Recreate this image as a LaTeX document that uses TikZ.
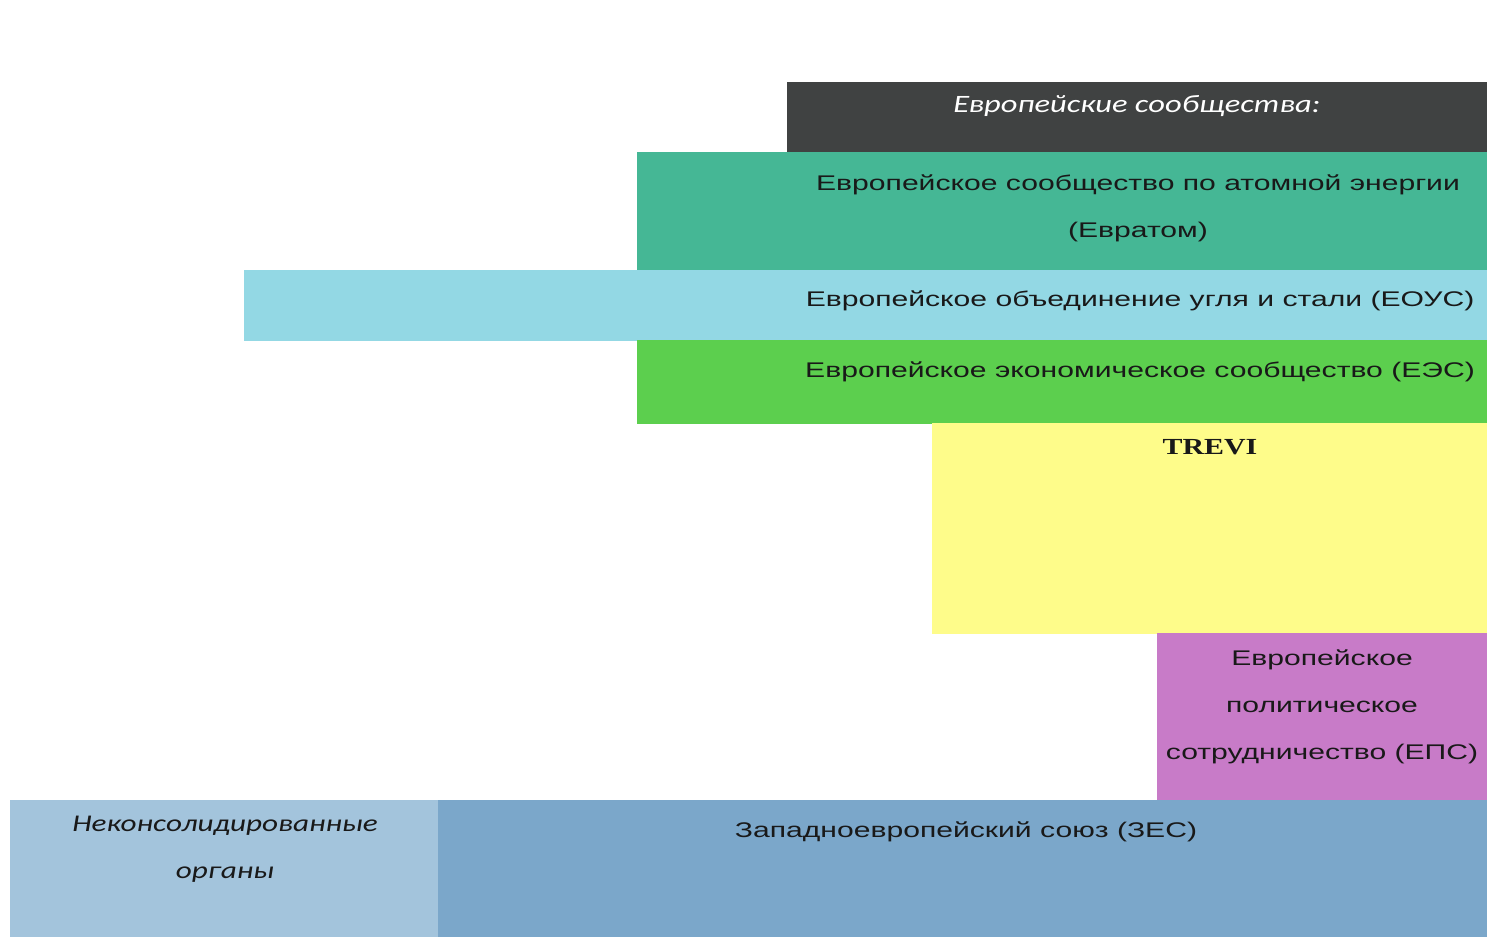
\documentclass[tikz,border=0pt]{standalone}
\usepackage{fontspec}
\setmainfont{Liberation Sans}
\newfontfamily\wsans[FakeStretch=1.42]{Liberation Sans}
\newfontfamily\wital[FakeStretch=1.3]{Carlito}
\newfontfamily\wserif[FakeStretch=1.3]{Liberation Serif}
\definecolor{cdark}{HTML}{404242}
\definecolor{cteal}{HTML}{45B795}
\definecolor{clblue}{HTML}{93D8E4}
\definecolor{cgreen}{HTML}{5CCF4E}
\definecolor{cyellow}{HTML}{FEFC8A}
\definecolor{cpink}{HTML}{C87BC8}
\definecolor{cgray}{HTML}{A3C4DC}
\definecolor{csteel}{HTML}{7BA7CA}
\tikzset{
  lbl/.style={font=\wsans\fontsize{10.6}{23.5}\selectfont, text=black!90, align=center, inner sep=0pt},
}
\begin{document}
\begin{tikzpicture}[x=0.5pt,y=-0.5pt]
\useasboundingbox (0,0) rectangle (1497,937);
\fill[white] (0,0) rectangle (1497,937);
% bands
\fill[cdark]   (787,82)  rectangle (1487,153);
\fill[cteal]   (637,152) rectangle (1487,271);
\fill[clblue]  (244,270) rectangle (1487,341);
\fill[cgreen]  (637,340) rectangle (1487,424);
\fill[cyellow] (932,423) rectangle (1487,634);
\fill[cpink]   (1157,633) rectangle (1487,801);
\fill[cgray]   (10,800)  rectangle (439,937);
\fill[csteel]  (438,800) rectangle (1487,937);
% labels
\node[lbl, text=white, font=\wital\itshape\fontsize{12.5}{14}\selectfont] (t0) at (1137,106) {Европейские сообщества:};
\node[lbl] (t1) at (1138,208) {Европейское сообщество по атомной энергии\\(Евратом)};
\node[lbl] (t2) at (1140,301) {Европейское объединение угля и стали (ЕОУС)};
\node[lbl] (t3) at (1140,372) {Европейское экономическое сообщество (ЕЭС)};
\node[lbl, font=\wserif\bfseries\fontsize{11.5}{14}\selectfont] (t4) at (1210,447) {TREVI};
\node[lbl] (t5) at (1322,707) {Европейское\\политическое\\сотрудничество (ЕПС)};
\node[lbl, font=\wital\itshape\fontsize{12}{23.5}\selectfont] (t6) at (225,849) {Неконсолидированные\\органы};
\node[lbl] (t7) at (966,832) {Западноевропейский союз (ЗЕС)};
\end{tikzpicture}
\end{document}
